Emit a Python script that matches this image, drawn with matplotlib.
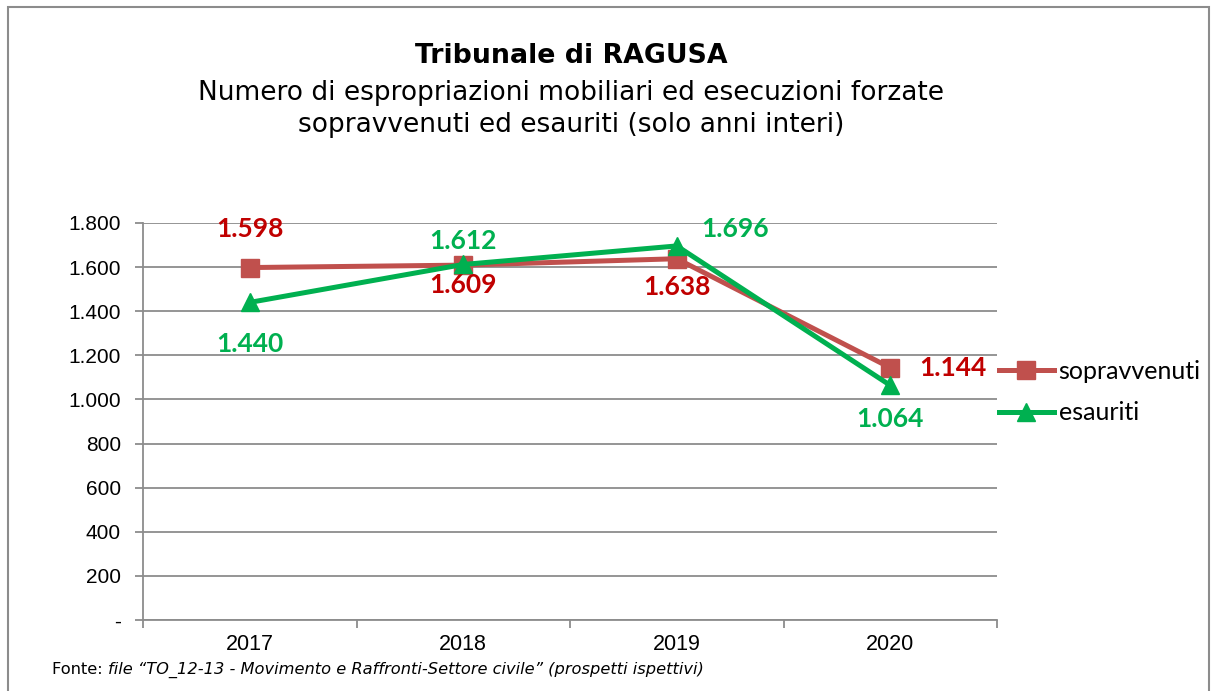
import matplotlib.pyplot as plt
from matplotlib.patches import Rectangle
from matplotlib.lines import Line2D

years = ['2017', '2018', '2019', '2020']
sopravvenuti = [1598, 1609, 1638, 1144]
esauriti = [1440, 1612, 1696, 1064]
yticks = [0, 200, 400, 600, 800, 1000, 1200, 1400, 1600, 1800]

red_line = '#C0504D'
red_text = '#C00000'
green = '#00B050'

def fmt(v):
    # italian thousands separator, zero shown as dash
    if v == 0:
        return '-'
    return '{:,}'.format(v).replace(',', '.')

W, H = 1213, 691
fig = plt.figure(figsize=(W / 100, H / 100), dpi=100)
fig.patches.append(Rectangle((8 / W, -0.1), (W - 12) / W, 1.1 - 7 / H, transform=fig.transFigure,
                             fill=False, edgecolor='#8c8c8c', linewidth=1.5))

ax = fig.add_axes([143 / W, 1 - 620 / H, (997 - 143) / W, (620 - 223) / H])
x = list(range(len(years)))

ax.set_ylim(0, 1800)
ax.set_xlim(-0.5, 3.5)
ax.set_yticks(yticks)
ax.set_yticklabels([fmt(v) for v in yticks], fontfamily='Liberation Sans', fontsize=15)
ax.yaxis.grid(True, color='#8c8c8c', linewidth=1.3)
ax.set_axisbelow(True)
ax.set_xticks([i - 0.5 for i in range(len(years) + 1)])
ax.set_xticklabels([])
ax.set_xticks(x, minor=True)
ax.set_xticklabels(years, minor=True, fontfamily='Liberation Sans', fontsize=15.5)
ax.tick_params(axis='x', which='minor', length=0, pad=10)
ax.tick_params(axis='x', which='major', length=6, color='#8c8c8c', width=1.3)
ax.tick_params(axis='y', length=6, color='#8c8c8c', width=1.3, pad=10)
for s in ['top', 'right']:
    ax.spines[s].set_visible(False)
for s in ['left', 'bottom']:
    ax.spines[s].set_color('#8c8c8c')
    ax.spines[s].set_linewidth(1.3)

ax.plot(x, sopravvenuti, color=red_line, linewidth=3.6, marker='s', markersize=13,
        label='sopravvenuti', zorder=3)
ax.plot(x, esauriti, color=green, linewidth=3.6, marker='^', markersize=13,
        label='esauriti', zorder=4)

lab_font = dict(fontfamily='Lato', fontweight='bold', fontsize=19, ha='center', va='center')
sop_off = [(0, 28), (0, -14), (0, -20), (45, 0)]
esa_off = [(0, -30), (0, 17), (42, 12), (0, -24)]
for i in x:
    ax.annotate(fmt(sopravvenuti[i]), (i, sopravvenuti[i]), xytext=sop_off[i],
                textcoords='offset points', color=red_text, **lab_font)
    ax.annotate(fmt(esauriti[i]), (i, esauriti[i]), xytext=esa_off[i],
                textcoords='offset points', color=green, **lab_font)

leg_handles = [Line2D([], [], color=red_line, linewidth=3.6, marker='s', markersize=13),
               Line2D([], [], color=green, linewidth=3.6, marker='^', markersize=13)]
fig.legend(leg_handles, ['sopravvenuti', 'esauriti'], loc='center left',
           bbox_to_anchor=(976 / W, 1 - 392 / H), frameon=False, handlelength=2.2,
           handletextpad=0.2, labelspacing=0.75, prop={'family': 'Lato', 'size': 18})

fig.text(571 / W, 1 - 56 / H, 'Tribunale di RAGUSA', ha='center', va='center',
         fontsize=19.3, fontweight='bold', fontfamily='DejaVu Sans')
fig.text(571 / W, 1 - 109 / H, 'Numero di espropriazioni mobiliari ed esecuzioni forzate\nsopravvenuti ed esauriti (solo anni interi)',
         ha='center', va='center', fontsize=19, fontfamily='DejaVu Sans', linespacing=1.32)

t = fig.text(52 / W, 1 - 670 / H, 'Fonte: ', ha='left', va='center', fontsize=11.7,
             fontfamily='DejaVu Sans')
fig.canvas.draw()
bb = t.get_window_extent()
fig.text(bb.x1 / W, 1 - 670 / H, 'file \u201cTO_12-13 - Movimento e Raffronti-Settore civile\u201d (prospetti ispettivi)',
         ha='left', va='center', fontsize=11.7, fontstyle='italic', fontfamily='DejaVu Sans')

fig.savefig('out.png', dpi=100)
